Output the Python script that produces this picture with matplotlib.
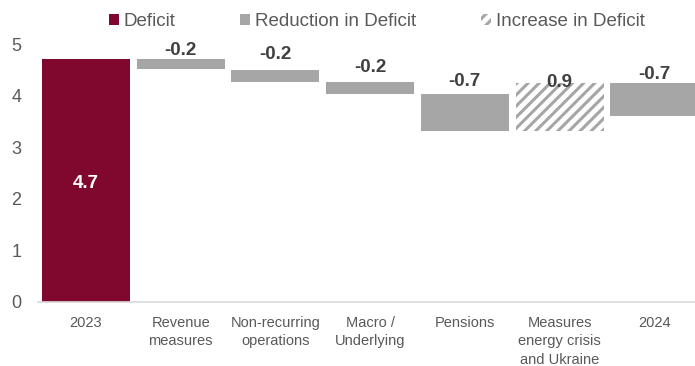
import matplotlib
matplotlib.use("Agg")
import matplotlib.pyplot as plt
from matplotlib.patches import Patch

categories = ["2023", "Revenue\nmeasures", "Non-recurring\noperations", "Macro /\nUnderlying",
              "Pensions", "Measures\nenergy crisis\nand Ukraine", "2024"]
bottoms = [0, 4.52, 4.28, 4.03, 3.32, 3.32, 3.62]
heights = [4.71, 0.19, 0.23, 0.24, 0.71, 0.93, 0.63]
labels = ["4.7", "-0.2", "-0.2", "-0.2", "-0.7", "0.9", "-0.7"]
kinds = ["deficit", "reduction", "reduction", "reduction", "reduction", "increase", "reduction"]

maroon = "#80082E"
grey = "#A6A6A6"
text_dark = "#404040"
text_grey = "#595959"

plt.rcParams["font.family"] = ["Liberation Sans", "DejaVu Sans"]
plt.rcParams["hatch.linewidth"] = 2.2
plt.rcParams["hatch.color"] = grey

fig = plt.figure(figsize=(6.95, 3.66), dpi=100)
ax = fig.add_axes([0.0547, 0.1749, 0.9453, 0.7317])

x = list(range(len(categories)))
for i in x:
    if kinds[i] == "deficit":
        ax.bar(i, heights[i], bottom=bottoms[i], width=0.93, color=maroon, linewidth=0)
    elif kinds[i] == "reduction":
        ax.bar(i, heights[i], bottom=bottoms[i], width=0.93, color=grey, linewidth=0)
    else:
        ax.bar(i, heights[i], bottom=bottoms[i], width=0.93, facecolor="white",
               edgecolor=grey, hatch="///", linewidth=0)

# gap (points) between bar top and its label, as placed in the original
label_gap = [0, 0, 5, 4.5, 3.5, -6, 0]
for i in x:
    if kinds[i] == "deficit":
        ax.annotate(labels[i], (i, heights[i] / 2), xytext=(0, -2), textcoords="offset points",
                    ha="center", va="center", color="white", fontsize=13.5, fontweight="bold")
    else:
        top = bottoms[i] + heights[i]
        ax.annotate(labels[i], (i, top), xytext=(0, label_gap[i]), textcoords="offset points",
                    ha="center", va="bottom", color=text_dark, fontsize=13.5, fontweight="bold")

ax.set_xlim(-0.507, 6.43)
ax.set_ylim(0, 5.2)
ax.set_yticks([0, 1, 2, 3, 4, 5])
ax.set_xticks(x)
ax.set_xticklabels(categories, fontsize=10.5, color=text_grey, linespacing=1.4)
ax.tick_params(axis="y", length=0, labelsize=13, labelcolor=text_grey, pad=12)
ax.tick_params(axis="x", length=0, pad=10)

for s in ["top", "right", "left"]:
    ax.spines[s].set_visible(False)
ax.spines["bottom"].set_color("#D9D9D9")
ax.spines["bottom"].set_linewidth(1.2)

handles = [
    Patch(facecolor=maroon, linewidth=0, label="Deficit"),
    Patch(facecolor=grey, linewidth=0, label="Reduction in Deficit"),
    Patch(facecolor="white", edgecolor=grey, hatch="///", linewidth=0, label="Increase in Deficit"),
]
fig.legend(handles=handles, loc="center", bbox_to_anchor=(0.542, 0.94), ncol=3, frameon=False,
           fontsize=13.5, handlelength=0.55, handleheight=0.55, handletextpad=0.25,
           columnspacing=3.45, labelcolor=text_grey)

fig.savefig("out.png", dpi=100)
